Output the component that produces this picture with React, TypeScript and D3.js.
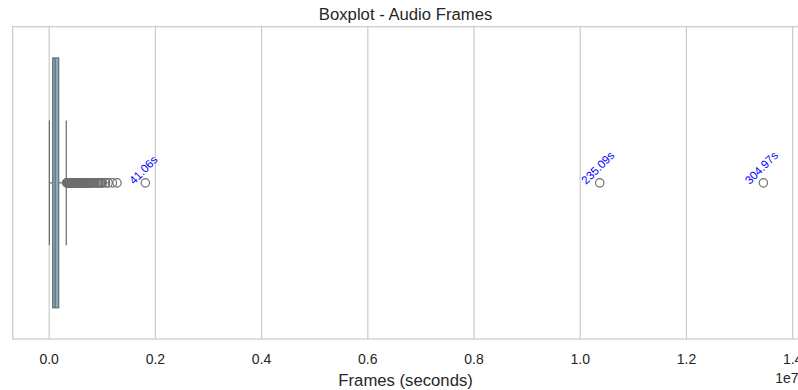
import React from 'react';
import * as d3 from 'd3';

const width = 798;
const height = 390;
const plotTop = 26.7;
const plotBottom = 339;
const plotLeft = 12.7;
const plotRight = 798.5;

// box summary (audio frames)
const whiskerLow = 4000;
const q1 = 66000;
const median = 112000;
const q3 = 179000;
const whiskerHigh = 322000;

// outliers beyond the upper whisker
const outliers = [
  330000, 336000, 341000, 347000, 352000, 358000, 363000, 369000, 374000, 380000,
  386000, 391000, 397000, 402000, 408000, 414000, 419000, 425000, 431000, 437000,
  442000, 448000, 454000, 460000, 466000, 472000, 478000, 484000, 490000, 496000,
  503000, 509000, 516000, 522000, 529000, 536000, 543000, 550000, 557000, 564000,
  571000, 579000, 587000, 594000, 602000, 611000, 619000, 628000, 637000, 646000,
  655000, 665000, 676000, 687000, 699000, 712000, 726000, 741000, 757000, 774000,
  792000, 812000, 835000, 862000, 894000, 918000, 935000, 961000, 982000, 1005000,
  1060000, 1110000, 1190000, 1277000,
];
const labeledFrames = [1810746, 10367469, 13449177];
const labeledText = ['41.06s', '235.09s', '304.97s'];

const xTicks = [0, 2e6, 4e6, 6e6, 8e6, 1e7, 1.2e7, 1.4e7];

const gridColor = '#cccccc';
const lineColor = '#6e6e6e';
const textColor = '#262626';
const font = '"Liberation Sans", Arial, sans-serif';

const App = () => {
  const x = d3.scaleLinear().domain([-6.87e5, 1.411e7]).range([plotLeft, plotRight]);
  const y = d3.scaleBand().domain(['Frames']).range([plotTop, plotBottom]);
  const cy = (y('Frames') as number) + y.bandwidth() / 2;
  const boxH = y.bandwidth() * 0.8;
  const capH = boxH / 2;

  const labelSize = 11.5;
  const allPoints = outliers.concat(labeledFrames);

  return (
    <svg width={width} height={height} style={{ position: 'absolute', left: 0, top: 0 }} fontFamily={font}>
      <rect x={0} y={0} width={width} height={height} fill="#fff" />
      {xTicks.map(t => (
        <line key={t} x1={x(t)} x2={x(t)} y1={plotTop} y2={plotBottom} stroke={gridColor} strokeWidth={1.25} />
      ))}
      <rect x={plotLeft} y={plotTop} width={plotRight - plotLeft} height={plotBottom - plotTop}
        fill="none" stroke={gridColor} strokeWidth={1.25} />

      {/* whiskers */}
      <line x1={x(whiskerLow)} x2={x(q1)} y1={cy} y2={cy} stroke={lineColor} strokeWidth={1.25} />
      <line x1={x(q3)} x2={x(whiskerHigh)} y1={cy} y2={cy} stroke={lineColor} strokeWidth={1.25} />
      <line x1={x(whiskerLow)} x2={x(whiskerLow)} y1={cy - capH / 2} y2={cy + capH / 2} stroke={lineColor} strokeWidth={1.25} />
      <line x1={x(whiskerHigh)} x2={x(whiskerHigh)} y1={cy - capH / 2} y2={cy + capH / 2} stroke={lineColor} strokeWidth={1.25} />

      {/* box */}
      <rect x={x(q1)} y={cy - boxH / 2} width={x(q3) - x(q1)} height={boxH}
        fill="#7fb0cb" stroke={lineColor} strokeWidth={1.25} />
      <line x1={x(median)} x2={x(median)} y1={cy - boxH / 2} y2={cy + boxH / 2} stroke={lineColor} strokeWidth={1.25} />

      {/* fliers */}
      {allPoints.map((v, i) => (
        <circle key={i} cx={x(v)} cy={cy} r={4.2} fill="none" stroke={lineColor} strokeWidth={1.2} />
      ))}

      {/* annotations */}
      {labeledFrames.map((v, i) => {
        const w = labeledText[i].length * 0.53 * labelSize;
        const half = (w + 10) / (2 * Math.SQRT2);
        const tx = x(v) - 2;
        const ty = cy + 3.5 - half;
        return (
          <text key={i} transform={`translate(${tx},${ty}) rotate(-45)`} textAnchor="middle"
            dominantBaseline="central" fontSize={labelSize} fill="#0000ff">
            {labeledText[i]}
          </text>
        );
      })}

      {/* x axis */}
      {xTicks.map(t => (
        <text key={t} x={x(t)} y={364} textAnchor="middle" fontSize={14} fill={textColor}>
          {(t / 1e7).toFixed(1)}
        </text>
      ))}
      <text x={plotRight} y={383} textAnchor="end" fontSize={14} fill={textColor}>1e7</text>
      <text x={(plotLeft + plotRight) / 2} y={386} textAnchor="middle" fontSize={16.7} fill={textColor}>
        Frames (seconds)
      </text>
      <text x={(plotLeft + plotRight) / 2} y={19.5} textAnchor="middle" fontSize={16.7} fill={textColor}>
        Boxplot - Audio Frames
      </text>
    </svg>
  );
};

export default App;
